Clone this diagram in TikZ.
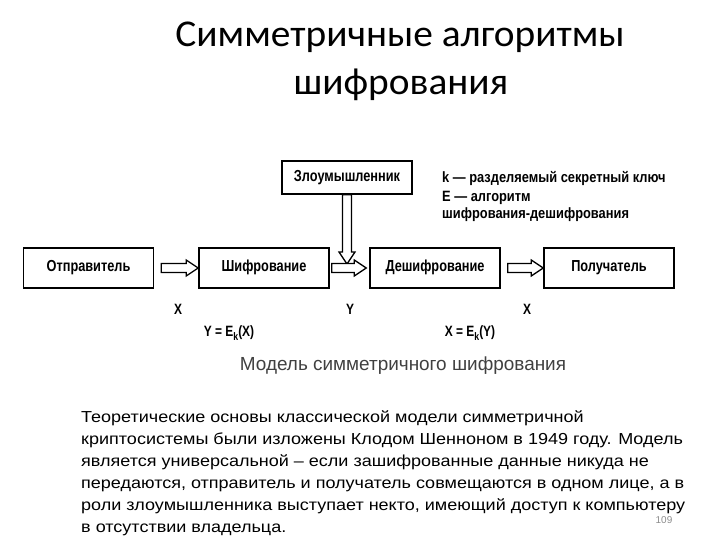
\documentclass[tikz,border=0pt]{standalone}
\usepackage{fontspec}
\setmainfont{Liberation Sans}
\newfontfamily\titlefont[FakeStretch=1.04]{Carlito}
\newfontfamily\boxfont[FakeStretch=0.8]{Liberation Sans}
\newfontfamily\legendfont[FakeStretch=0.86]{Liberation Sans}
\newfontfamily\bodyfont[FakeStretch=1.13]{Liberation Sans}
\usetikzlibrary{positioning,calc}

\begin{document}
\begin{tikzpicture}[x=1bp, y=-1bp,
  block/.style={rectangle, draw, line width=1.6pt, minimum width=130bp, minimum height=40bp, inner sep=0pt, text height=11.5bp, text depth=3.5bp, font=\boxfont\fontsize{16}{18}\selectfont\bfseries},
  fat/.style={draw, line width=1.3pt, fill=white, line join=miter},
  lbl/.style={font=\boxfont\fontsize{15}{17}\selectfont\bfseries},
  legend/.style={anchor=west, inner sep=0pt, font=\legendfont\fontsize{15}{17}\selectfont\bfseries}
]
  \def\fatarrow#1#2{%
    \draw[fat] let \p1=(#1), \p2=(#2), \n1={atan2(\y2-\y1,\x2-\x1)}, \n2={veclen(\x2-\x1,\y2-\y1)} in
      {[shift={(\p1)}, rotate=\n1]
      (0pt,4.5pt) -- (\n2-12pt,4.5pt) -- (\n2-12pt,8pt) -- (\n2,0pt)
      -- (\n2-12pt,-8pt) -- (\n2-12pt,-4.5pt) -- (0pt,-4.5pt) -- cycle};}
  \useasboundingbox (0,0) rectangle (720,540);

  \node[font=\titlefont\fontsize{38}{44}\selectfont, anchor=base] (title1) at (400,47) {Симметричные алгоритмы};
  \node[font=\titlefont\fontsize{38}{44}\selectfont, anchor=base] (title2) at (401,95) {шифрования};

  \node[block, minimum height=33bp] (spy) at (347,177.5) {Злоумышленник};
  \node[block] (snd) at (88.5,268) {Отправитель};
  \node[block] (enc) at (264,268) {Шифрование};
  \node[block] (dec) at (435,268) {Дешифрование};
  \node[block] (rcv) at (609,268) {Получатель};

  \node[legend] (lk) at (442,178) {k — разделяемый секретный ключ};
  \node[legend] (le) at (442,198) {E — алгоритм};
  \node[legend] (le2) at (442,215) {шифрования-дешифрования};

  \coordinate (a1) at ($(snd.east)+(7,0)$);
  \coordinate (a2) at ($(enc.east)+(2,0)$);
  \coordinate (b2) at ($(dec.west)+(-3,0)$);
  \coordinate (a3) at ($(dec.east)+(7,0)$);
  \coordinate (hit) at ($(spy.south |- enc.east)+(0,-4)$);

  \fatarrow{spy.south}{hit}
  \fatarrow{a1}{enc.west}
  \fatarrow{a2}{b2}
  \fatarrow{a3}{rcv.west}

  \node[lbl] (x1) at (178,309) {X};
  \node[lbl] (y1) at (350,309) {Y};
  \node[lbl] (x2) at (527,309) {X};
  \node[lbl] (fenc) at (229,333) {Y = E\raisebox{-0.45ex}{\fontsize{11}{11}\selectfont k}(X)};
  \node[lbl] (fdec) at (470,333) {X = E\raisebox{-0.45ex}{\fontsize{11}{11}\selectfont k}(Y)};

  \node[font=\fontsize{19}{22}\selectfont, text=black!75] (cap) at (403,366) {Модель симметричного шифрования};

  \node[anchor=north west, inner sep=0pt, align=left, font=\bodyfont\fontsize{16}{22.2}\selectfont] (txt) at (81,410)
    {Теоретические основы классической модели симметричной\\
     криптосистемы были изложены Клодом Шенноном в 1949 году. Модель\\
     является универсальной – если зашифрованные данные никуда не\\
     передаются, отправитель и получатель совмещаются в одном лице, а в\\
     роли злоумышленника выступает некто, имеющий доступ к компьютеру\\
     в отсутствии владельца.};
  \node[font=\fontsize{10}{10}\selectfont, text=black!45, inner sep=1pt] (pg) at (664,520) {109};
\end{tikzpicture}
\end{document}
